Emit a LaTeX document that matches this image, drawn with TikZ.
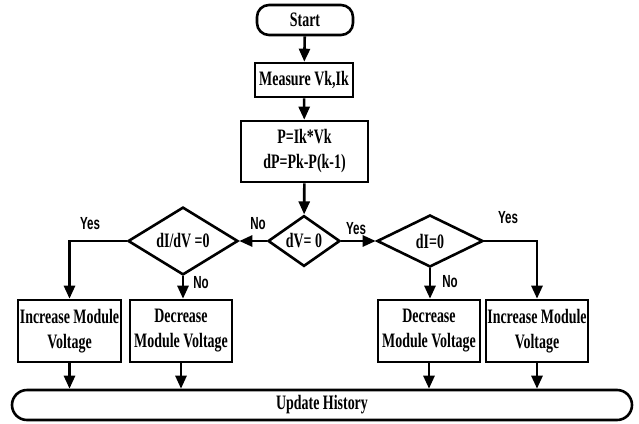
\documentclass[tikz,border=0pt]{standalone}
\usepackage{fontspec}
\setmainfont[FakeStretch=0.68]{Liberation Serif}
\newfontfamily\lblfont[FakeStretch=0.66]{Liberation Sans}
\usetikzlibrary{shapes.geometric,arrows.meta}

\begin{document}
\begin{tikzpicture}[x=1pt,y=-1pt,
  every node/.style={font=\fontsize{20.5}{25}\selectfont\bfseries, align=center},
  flow/.style={line width=2.6pt, -{Triangle[length=13pt,width=11pt]}},
  box/.style={draw, line width=2.6pt, inner sep=0pt},
  term/.style={box, rounded corners=12pt},
  decision/.style={draw, diamond, line width=2.6pt, inner sep=0pt},
  lbl/.style={font=\fontsize{17.5}{17}\selectfont\lblfont\bfseries}
]
\useasboundingbox[fill=white] (0,0) rectangle (639,423);

% main column
\node[term, minimum width=96pt, minimum height=30pt] (start) at (305,20) {Start};
\node[box, minimum width=98pt, minimum height=34pt] (meas) at (304,80) {Measure Vk,Ik};
\node[box, minimum width=127pt, minimum height=61pt] (calc) at (304.5,151.5) {P=Ik*Vk\\dP=Pk-P(k-1)};

% decisions
\node[decision, minimum width=72pt, minimum height=50pt] (dv) at (304,241) {dV= 0};
\node[decision, minimum width=110pt, minimum height=54pt] (didv) at (183,241) {dI/dV =0};
\node[decision, minimum width=106pt, minimum height=52pt] (di) at (430,241) {dI=0};

% actions
\node[box, minimum width=103pt, minimum height=62pt] (incL) at (69.5,331) {Increase Module\\Voltage};
\node[box, minimum width=102pt, minimum height=62pt] (decL) at (181,331) {Decrease\\Module Voltage};
\node[box, minimum width=102pt, minimum height=62pt] (decR) at (429,331) {Decrease\\Module Voltage};
\node[box, minimum width=102pt, minimum height=62pt] (incR) at (537,331) {Increase Module\\Voltage};

% terminator
\node[box, rounded corners=15pt, minimum width=620pt, minimum height=30pt] (upd) at (322,405) {Update History};

% connectors
\draw[flow] (start) -- (meas);
\draw[flow] (meas) -- (calc);
\draw[flow] (calc) -- (dv);
\draw[flow] (dv.west) -- (didv.east);
\draw[flow] (dv.east) -- (di.west);
\draw[flow] (didv.west) -| (incL.north);
\draw[flow] (didv.south) -- (didv.south |- decL.north);
\draw[flow] (di.south) -- (di.south |- decR.north);
\draw[flow] (di.east) -| (incR.north);
\draw[flow] (incL.south) -- (incL.south |- upd.north);
\draw[flow] (decL.south) -- (decL.south |- upd.north);
\draw[flow] (decR.south) -- (decR.south |- upd.north);
\draw[flow] (incR.south) -- (incR.south |- upd.north);

% branch labels
\node[lbl] (y1) at (90,224) {Yes};
\node[lbl] (n1) at (258,224) {No};
\node[lbl] (y2) at (356,229) {Yes};
\node[lbl] (n2) at (201,283) {No};
\node[lbl] (n3) at (450,282) {No};
\node[lbl] (y3) at (508,218) {Yes};
\end{tikzpicture}
\end{document}
